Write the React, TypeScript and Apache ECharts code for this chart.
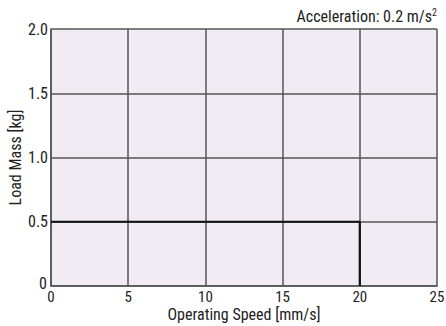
import React, { useEffect, useRef } from "react";
import * as echarts from "echarts";

const xTicks = [0, 5, 10, 15, 20, 25];
const yTicks = [0, 0.5, 1.0, 1.5, 2.0];
const speed = [0, 20, 20];
const mass = [0.5, 0.5, 0];
const FONT = "'Liberation Sans Narrow', 'Roboto Condensed', Roboto, sans-serif";
const FS = 16;

export default function App() {
  const ref = useRef<HTMLDivElement>(null);
  useEffect(() => {
    const chart = echarts.init(ref.current!, null, { renderer: "svg" });
    chart.setOption({
      animation: false,
      backgroundColor: "#ffffff",
      title: {
        text: "Acceleration: 0.2 m/s{sup|2}",
        right: 4,
        top: 2,
        textStyle: {
          fontFamily: FONT,
          fontSize: FS,
          fontWeight: "normal",
          color: "#222",
          rich: { sup: { fontFamily: FONT, fontSize: 10, verticalAlign: "top", padding: [0, 0, 9, 0], color: "#222" } },
        },
      },
      grid: {
        left: 51, top: 29, right: 9, bottom: 40,
        show: true, backgroundColor: "#f1ecf4", borderWidth: 0,
        containLabel: false, outerBoundsMode: "none",
      },
      xAxis: {
        type: "value",
        min: xTicks[0],
        max: xTicks[xTicks.length - 1],
        interval: 5,
        name: "Operating Speed [mm/s]",
        nameLocation: "middle",
        nameGap: 20,
        nameMoveOverlap: false,
        nameTextStyle: { fontFamily: FONT, fontSize: FS, lineHeight: 16, color: "#222" },
        axisLine: { show: true, lineStyle: { color: "#555", width: 1.5 } },
        axisTick: { show: false },
        axisLabel: { fontFamily: FONT, fontSize: 15, lineHeight: 15, color: "#222", margin: 3 },
        splitLine: { show: true, lineStyle: { color: "#555", width: 1.5 } },
      },
      yAxis: {
        type: "value",
        min: yTicks[0],
        max: yTicks[yTicks.length - 1],
        interval: 0.5,
        name: "Load Mass [kg]",
        nameLocation: "middle",
        nameGap: 28,
        nameMoveOverlap: false,
        nameTextStyle: { fontFamily: FONT, fontSize: FS, color: "#222" },
        axisLine: { show: true, lineStyle: { color: "#555", width: 1.5 } },
        axisTick: { show: false },
        axisLabel: {
          fontFamily: FONT,
          fontSize: FS,
          color: "#222",
          margin: 3,
          formatter: (v: number) => (v === 0 ? "{z|0}" : v.toFixed(1)),
          rich: { z: { fontFamily: FONT, fontSize: FS, color: "#222", padding: [0, 1, 5, 0] } },
        },
        splitLine: { show: true, lineStyle: { color: "#555", width: 1.5 } },
      },
      series: [
        {
          type: "line",
          data: speed.map((s, i) => [s, mass[i]]),
          symbol: "none",
          lineStyle: { color: "#111", width: 2.2 },
        },
      ],
    });
    return () => chart.dispose();
  }, []);
  return <div ref={ref} style={{ width: 446, height: 326, position: "absolute", left: 0, top: 0 }} />;
}
